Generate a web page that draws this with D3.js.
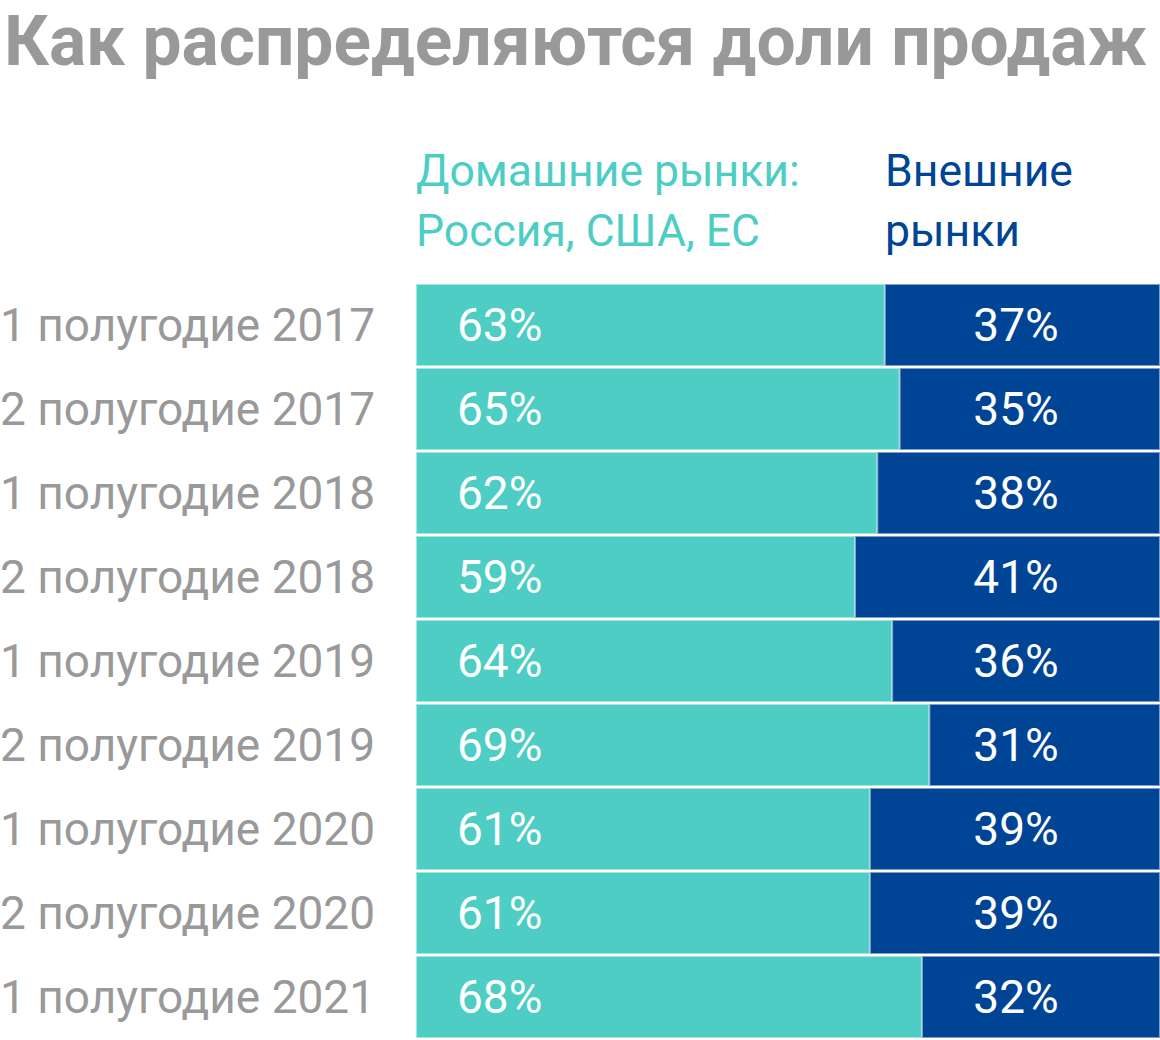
<!DOCTYPE html>
<html><head><meta charset="utf-8">
<script src="https://cdn.jsdelivr.net/npm/d3@7"></script>
<style>body{margin:0;background:#fff}svg{display:block}text{font-family:Roboto,"Noto Sans",sans-serif}</style>
</head><body>
<script>
const title = "Как распределяются доли продаж";
const categories = ["1 полугодие 2017","2 полугодие 2017","1 полугодие 2018","2 полугодие 2018","1 полугодие 2019","2 полугодие 2019","1 полугодие 2020","2 полугодие 2020","1 полугодие 2021"];
const domestic = [63,65,62,59,64,69,61,61,68];
const external = [37,35,38,41,36,31,39,39,32];
const legendDomestic = ["Домашние рынки:","Россия, США, ЕС"];
const legendExternal = ["Внешние","рынки"];

const W=1160,H=1040;
const svg=d3.select("body").append("svg").attr("width",W).attr("height",H);
const cTeal="#4ecdc4", cBlue="#004595", cGray="#999999";

svg.append("text").attr("x",4).attr("y",64.8).attr("font-size",69.5).attr("font-weight",700)
  .attr("fill",cGray).text(title);

const x=d3.scaleLinear().domain([0,100]).range([416,1160]);
const y=d3.scaleBand().domain(categories).range([284,1038]).paddingInner(2/84);

const lg=svg.append("g");
lg.selectAll("text.d").data(legendDomestic).join("text").attr("class","d")
  .attr("x",416).attr("y",(d,i)=>186+i*60).attr("font-size",44.5).attr("fill",cTeal).text(d=>d);
lg.selectAll("text.e").data(legendExternal).join("text").attr("class","e")
  .attr("x",885).attr("y",(d,i)=>186+i*60).attr("font-size",44.5).attr("fill",cBlue).text(d=>d);

const rows=svg.selectAll("g.row").data(categories.map((c,i)=>({c,d:domestic[i],e:external[i]})))
  .join("g").attr("class","row");
rows.append("text").attr("x",0).attr("y",d=>y(d.c)+y.bandwidth()/2+16)
  .attr("font-size",46).attr("fill",cGray).text(d=>d.c);
rows.append("rect").attr("x",x(0)+0.5).attr("y",d=>y(d.c)+0.5)
  .attr("width",d=>x(d.d)-x(0)-1).attr("height",y.bandwidth()-1)
  .attr("fill",cTeal).attr("stroke","#a6e6e1").attr("stroke-width",1);
rows.append("rect").attr("x",d=>x(d.d)+0.5).attr("y",d=>y(d.c)+0.5)
  .attr("width",d=>x(d.d+d.e)-x(d.d)-1).attr("height",y.bandwidth()-1)
  .attr("fill",cBlue).attr("stroke","#7f9fc8").attr("stroke-width",1);
rows.append("text").attr("x",457).attr("y",d=>y(d.c)+y.bandwidth()/2+16)
  .attr("font-size",46).attr("fill","#fff").text(d=>d.d+"%");
rows.append("text").attr("x",1016).attr("text-anchor","middle").attr("y",d=>y(d.c)+y.bandwidth()/2+16)
  .attr("font-size",46).attr("fill","#fff").text(d=>d.e+"%");
</script>
</body></html>
